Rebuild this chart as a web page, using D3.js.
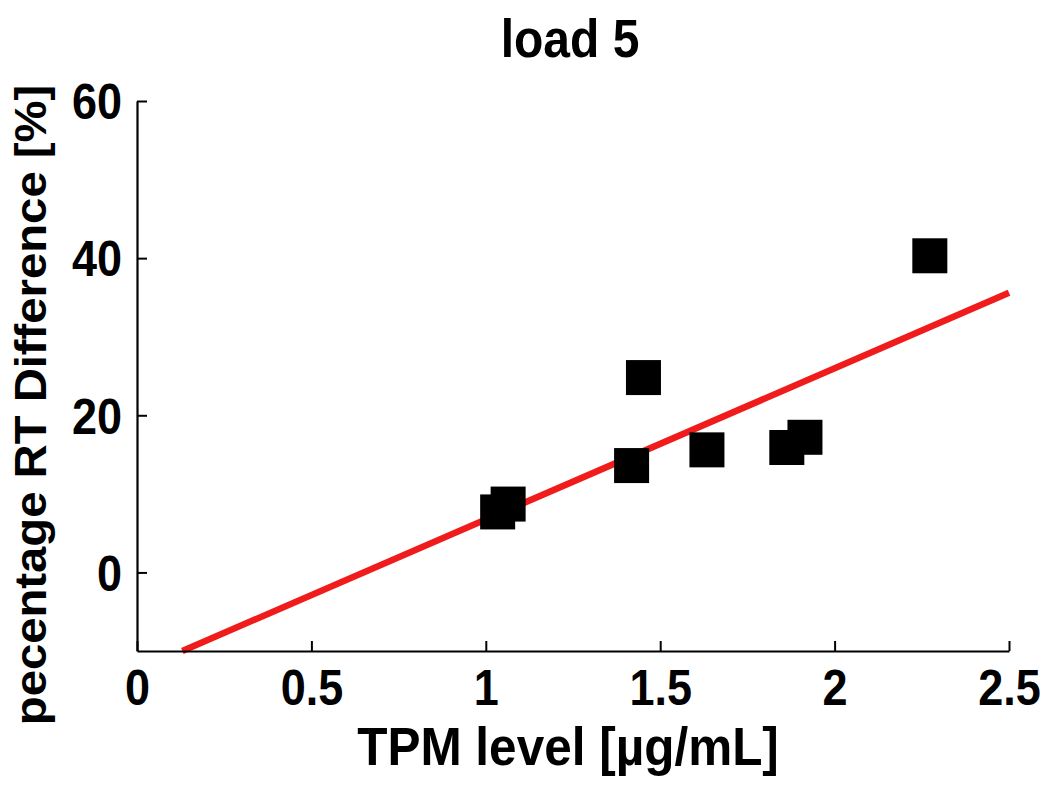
<!DOCTYPE html>
<html>
<head>
<meta charset="utf-8">
<script src="https://cdn.jsdelivr.net/npm/d3@7"></script>
<style>
  html, body { margin: 0; padding: 0; background: #fff; }
  svg text { font-family: "Liberation Sans", Arial, Helvetica, sans-serif; font-weight: bold; fill: #000; }
</style>
</head>
<body>
<svg id="chart" width="1050" height="785"></svg>
<script>
// ---- data ----
const title = "load 5";
const xLabel = "TPM level [µg/mL]";
const yLabel = "pecentage RT Difference [%]";
const pointX = [1.034, 1.064, 1.418, 1.452, 1.634, 1.863, 1.915, 2.273];
const pointY = [7.7, 8.7, 13.6, 24.8, 15.6, 15.9, 17.2, 40.3];
const fitX = [0.13, 2.5];
const fitY = [-10, 35.6];
const xTicks = [0, 0.5, 1, 1.5, 2, 2.5];
const xTickLabels = ["0", "0.5", "1", "1.5", "2", "2.5"];
const yTicks = [0, 20, 40, 60];
const yTickLabels = ["0", "20", "40", "60"];

// ---- layout ----
const svg = d3.select("#chart");
const mLeft = 137, mRight = 1009, mTop = 101, mBottom = 651;
const x = d3.scaleLinear().domain([0, 2.5]).range([mLeft, mRight]);
const y = d3.scaleLinear().domain([-10, 60]).range([mBottom, mTop]);

const tickFont = 45, labelFont = 48, stretch = 1.1;

// fit line (drawn first, below markers)
const fitPts = fitX.map((v, i) => [v, fitY[i]]);
svg.append("path")
  .datum(fitPts)
  .attr("d", d3.line().x(d => x(d[0])).y(d => y(d[1])))
  .attr("fill", "none")
  .attr("stroke", "#f01c1c")
  .attr("stroke-width", 6.5);

// markers
const side = 35;
svg.append("g").selectAll("rect")
  .data(pointX.map((v, i) => [v, pointY[i]]))
  .join("rect")
  .attr("x", d => x(d[0]) - side / 2)
  .attr("y", d => y(d[1]) - side / 2)
  .attr("width", side)
  .attr("height", side)
  .attr("fill", "#000");

// axes
const xAxis = d3.axisBottom(x).tickValues(xTicks).tickSize(-10).tickSizeOuter(0)
  .tickFormat((d, i) => xTickLabels[i]);
const gx = svg.append("g").attr("transform", `translate(0,${mBottom})`).call(xAxis);
const yAxis = d3.axisLeft(y).tickValues(yTicks).tickSize(-10).tickSizeOuter(0)
  .tickFormat((d, i) => yTickLabels[i]);
const gy = svg.append("g").attr("transform", `translate(${mLeft},0)`).call(yAxis);

[gx, gy].forEach(g => {
  g.select(".domain").attr("stroke", "#000").attr("stroke-width", 2.2);
  g.selectAll(".tick line").attr("stroke", "#000").attr("stroke-width", 2);
  g.selectAll(".tick text").attr("font-size", tickFont).attr("fill", "#000")
   .style("font-family", '"Liberation Sans", Arial, sans-serif').style("font-weight", "bold");
});
// x tick labels: baseline ~705, vertical stretch
gx.selectAll(".tick text")
  .attr("dy", null)
  .attr("y", 0)
  .attr("transform", `translate(0,54) scale(1,${stretch})`);
// y tick labels: right-aligned, centred vertically on tick
gy.selectAll(".tick text")
  .attr("dy", null)
  .attr("x", 0)
  .attr("y", 0)
  .attr("text-anchor", "end")
  .attr("transform", `translate(-15,${tickFont * 0.716 * stretch / 2}) scale(1,${stretch})`);

// title
svg.append("text")
  .attr("text-anchor", "middle")
  .attr("font-size", labelFont)
  .attr("transform", `translate(570,57) scale(1,${stretch})`)
  .text(title);

// x label
svg.append("text")
  .attr("text-anchor", "middle")
  .attr("font-size", 49.5)
  .attr("transform", `translate(568,765) scale(1,${stretch})`)
  .text(xLabel);

// y label
svg.append("text")
  .attr("text-anchor", "middle")
  .attr("font-size", 45)
  .attr("transform", `translate(46,405) rotate(-90) scale(1.05,1)`)
  .text(yLabel);
</script>
</body>
</html>
